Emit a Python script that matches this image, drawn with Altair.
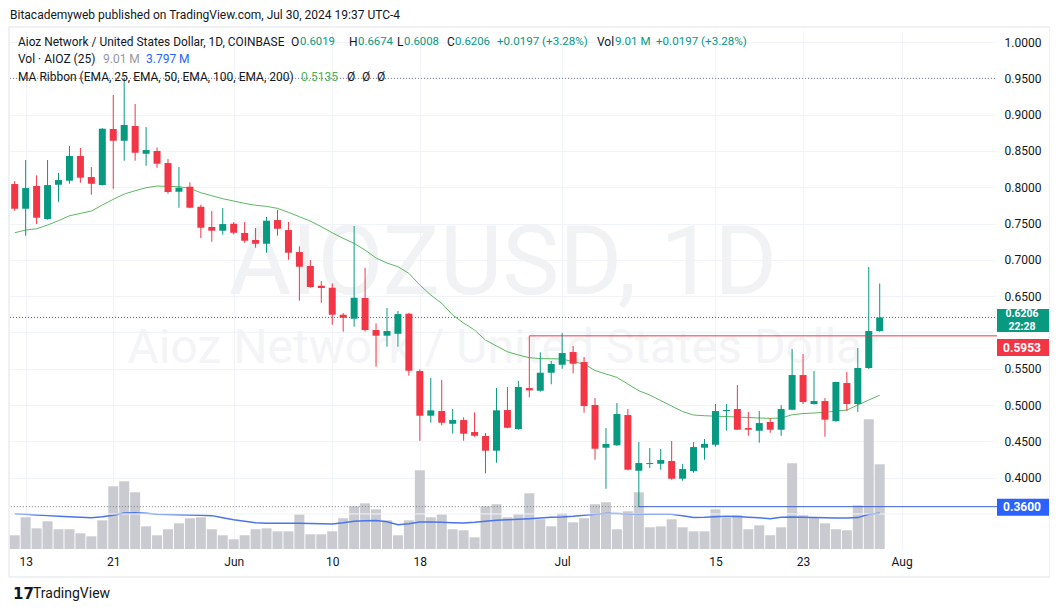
import altair as alt
import pandas as pd

# ---------------- data ----------------
dates = pd.date_range("2024-05-12", "2024-07-30", freq="D").strftime("%Y-%m-%dT00:00:00").tolist()

open_ = [0.8044, 0.7704, 0.8017, 0.7562, 0.8034, 0.8090, 0.8430, 0.8140, 0.8030, 0.8802,
         0.8640, 0.8843, 0.8461, 0.8499, 0.8333, 0.7938, 0.8007, 0.7731, 0.7452, 0.7401,
         0.7497, 0.7369, 0.7273, 0.7222, 0.7548, 0.7410, 0.7107, 0.6915, 0.6643, 0.6616,
         0.6244, 0.6189, 0.6474, 0.6033, 0.5955, 0.5982, 0.6258, 0.5468, 0.4853, 0.4917,
         0.4742, 0.4793, 0.4628, 0.4573, 0.4371, 0.4931, 0.4669, 0.5234, 0.5197, 0.5445,
         0.5555, 0.5730, 0.5592, 0.5000, 0.4412, 0.4445, 0.4862, 0.4095, 0.4187, 0.4191,
         0.4229, 0.3985, 0.4091, 0.4412, 0.4453, 0.4917, 0.4945, 0.4683, 0.4646, 0.4766,
         0.4660, 0.4935, 0.5413, 0.5014, 0.5055, 0.4780, 0.5303, 0.5014, 0.5510, 0.6019]

high = [0.8085, 0.8375, 0.8164, 0.8375, 0.8196, 0.8567, 0.8540, 0.8278, 0.8815, 0.9270,
        0.9500, 0.9146, 0.8829, 0.8550, 0.8388, 0.8278, 0.8067, 0.7759, 0.7672, 0.7713,
        0.7521, 0.7521, 0.7438, 0.7590, 0.7690, 0.7521, 0.7186, 0.6997, 0.6708, 0.6676,
        0.6267, 0.7466, 0.6887, 0.6125, 0.6336, 0.6295, 0.6271, 0.5492, 0.5372, 0.5344,
        0.4945, 0.4831, 0.4899, 0.4614, 0.5234, 0.5248, 0.5331, 0.5289, 0.5726, 0.5606,
        0.5992, 0.5813, 0.5661, 0.5096, 0.4683, 0.5028, 0.4945, 0.4490, 0.4408, 0.4394,
        0.4504, 0.4187, 0.4490, 0.4532, 0.5014, 0.5014, 0.5275, 0.4904, 0.4917, 0.4821,
        0.5000, 0.5771, 0.5702, 0.5468, 0.5096, 0.5320, 0.5455, 0.5785, 0.6901, 0.6674]

low = [0.7676, 0.7332, 0.7493, 0.7552, 0.7800, 0.8048, 0.8062, 0.7897, 0.8025, 0.7979,
       0.8365, 0.8365, 0.8296, 0.8269, 0.7910, 0.7718, 0.7710, 0.7300, 0.7249, 0.7346,
       0.7351, 0.7236, 0.7167, 0.7098, 0.7332, 0.7001, 0.6437, 0.6616, 0.6409, 0.6106,
       0.6010, 0.6079, 0.6010, 0.5528, 0.5803, 0.5803, 0.5404, 0.4508, 0.4756, 0.4720,
       0.4605, 0.4508, 0.4563, 0.4059, 0.4205, 0.4680, 0.4660, 0.5106, 0.5183, 0.5285,
       0.5500, 0.5437, 0.4894, 0.4247, 0.3847, 0.4439, 0.4100, 0.3600, 0.4132, 0.4109,
       0.3971, 0.3957, 0.4067, 0.4247, 0.4426, 0.4646, 0.4655, 0.4577, 0.4481, 0.4618,
       0.4577, 0.4930, 0.5014, 0.5005, 0.4563, 0.4766, 0.4917, 0.4904, 0.5496, 0.6008]

close = [0.7704, 0.7989, 0.7580, 0.8030, 0.8099, 0.8430, 0.8131, 0.8048, 0.8806, 0.8640,
         0.8857, 0.8475, 0.8512, 0.8324, 0.7934, 0.7993, 0.7718, 0.7442, 0.7401, 0.7493,
         0.7373, 0.7263, 0.7222, 0.7539, 0.7428, 0.7098, 0.6905, 0.6625, 0.6612, 0.6244,
         0.6202, 0.6478, 0.6033, 0.5955, 0.6019, 0.6253, 0.5472, 0.4853, 0.4927, 0.4756,
         0.4793, 0.4605, 0.4577, 0.4371, 0.4927, 0.4687, 0.5248, 0.5202, 0.5445, 0.5565,
         0.5716, 0.5569, 0.4986, 0.4398, 0.4463, 0.4876, 0.4109, 0.4201, 0.4201, 0.4242,
         0.3985, 0.4118, 0.4421, 0.4463, 0.4917, 0.4931, 0.4660, 0.4660, 0.4752, 0.4660,
         0.4945, 0.5413, 0.5041, 0.5055, 0.4798, 0.5317, 0.5014, 0.5510, 0.6019, 0.6206]

ema25 = [0.7373, 0.7410, 0.7428, 0.7479, 0.7539, 0.7607, 0.7640, 0.7672, 0.7755, 0.7833,
         0.7906, 0.7952, 0.7993, 0.8017, 0.8012, 0.8007, 0.7985, 0.7924, 0.7883, 0.7842,
         0.7810, 0.7778, 0.7751, 0.7737, 0.7709, 0.7654, 0.7594, 0.7534, 0.7456, 0.7373,
         0.7296, 0.7227, 0.7135, 0.7025, 0.6956, 0.6905, 0.6814, 0.6653, 0.6515, 0.6401,
         0.6240, 0.6129, 0.6033, 0.5895, 0.5813, 0.5734, 0.5689, 0.5652, 0.5640, 0.5638,
         0.5634, 0.5596, 0.5565, 0.5475, 0.5427, 0.5381, 0.5289, 0.5197, 0.5138, 0.5062,
         0.4986, 0.4910, 0.4862, 0.4853, 0.4846, 0.4841, 0.4835, 0.4828, 0.4821, 0.4817,
         0.4821, 0.4866, 0.4883, 0.4890, 0.4899, 0.4917, 0.4931, 0.5000, 0.5069, 0.5135]

volume_m = [1.46, 3.37, 2.20, 2.95, 2.10, 2.10, 1.67, 1.35, 3.05, 6.67,
            7.20, 6.03, 2.41, 1.46, 2.10, 2.73, 3.27, 3.37, 2.10, 1.46,
            1.03, 1.46, 2.10, 2.20, 1.88, 1.88, 3.69, 1.56, 1.56, 1.88,
            3.27, 4.54, 4.86, 4.22, 3.05, 1.46, 3.05, 8.37, 3.37, 3.69,
            2.10, 1.99, 1.24, 4.54, 4.76, 3.37, 3.69, 5.93, 3.16, 2.41,
            3.80, 2.84, 3.27, 4.76, 4.97, 2.10, 4.01, 6.03, 2.31, 2.41,
            3.16, 2.31, 1.88, 1.88, 4.22, 3.32, 3.59, 2.10, 2.52, 1.46,
            2.31, 9.12, 3.59, 3.32, 2.73, 2.10, 1.99, 4.65, 13.80, 9.01]

vol_ma_m = [3.74, 3.69, 3.62, 3.55, 3.48, 3.43, 3.37, 3.32, 3.43, 3.59,
            3.82, 3.85, 3.80, 3.69, 3.67, 3.65, 3.62, 3.60, 3.55, 3.32,
            3.11, 2.95, 2.79, 2.73, 2.73, 2.73, 2.73, 2.71, 2.69, 2.66,
            2.79, 2.95, 3.00, 3.02, 2.89, 2.57, 2.68, 2.86, 2.86, 2.84,
            2.79, 2.76, 2.84, 2.95, 3.05, 3.11, 3.16, 3.23, 3.30, 3.37,
            3.40, 3.48, 3.59, 3.69, 3.77, 3.77, 3.73, 3.69, 3.69, 3.69,
            3.69, 3.53, 3.34, 3.37, 3.43, 3.48, 3.45, 3.39, 3.32, 3.21,
            3.37, 3.40, 3.37, 3.35, 3.33, 3.31, 3.30, 3.34, 3.69, 3.797]

# labelled price ticks (0.6000 and 0.3500 sit hidden under the price boxes)
price_ticks = [0.40, 0.45, 0.50, 0.55, 0.65, 0.70, 0.75, 0.80, 0.85, 0.90, 0.95, 1.00]
hidden_grid = [0.35, 0.60]
time_ticks = [(5, 13), (5, 21), (6, 1), (6, 10), (6, 18), (7, 1), (7, 15), (7, 23), (8, 1)]

last_close = 0.6206
resist_level = 0.5953
resist_start = "2024-06-28T00:00:00"
resist_low = 0.5289
support_level = 0.3600
support_start = "2024-07-08T00:00:00"
high_mark = 0.9500

df = pd.DataFrame({"date": dates, "o": open_, "h": high, "l": low, "c": close,
                   "ema": ema25, "vol": volume_m, "volma": vol_ma_m})

# ---------------- styling ----------------
FONT = "Roboto"
G = "#089981"
R = "#f23645"
B = "#2962ff"
DARK = "#131722"
GRID = "#f0f3fa"
W, H = 985, 518

xscale = alt.Scale(domain=[alt.DateTime(year=2024, month=5, date=11, hours=13, minutes=41),
                           alt.DateTime(year=2024, month=8, date=9, hours=12, minutes=43)],
                   nice=False, padding=0)
xaxis = alt.Axis(values=[alt.DateTime(year=2024, month=m, date=d) for m, d in time_ticks],
                 labelExpr="date(datum.value) == 1 ? timeFormat(datum.value, '%b') : timeFormat(datum.value, '%-d')",
                 title=None, grid=True, gridColor=GRID, ticks=False, domain=False,
                 labelFontSize=12, labelColor=DARK, labelPadding=7, labelFont=FONT,
                 labelFlush=False, labelOverlap=False)
X = alt.X("date:T", scale=xscale, axis=xaxis)


def XD(field):
    return alt.X(field, scale=xscale, axis=xaxis)


pscale = alt.Scale(domain=[0.3017, 1.0152], nice=False, zero=False, padding=0)
vscale = alt.Scale(domain=[0, 55.1], nice=False, zero=True, padding=0)
yaxis = alt.Axis(orient="right", values=price_ticks, format=".4f", title=None, grid=True,
                 gridColor=GRID, ticks=False, domain=False, labelFontSize=12,
                 labelColor=DARK, labelPadding=9, labelFont=FONT, labelOverlap=False)


def PY(field):
    return alt.Y(field, scale=pscale, axis=yaxis)


def txt(s, x, y, color=DARK, size=12, weight="normal", align="left", font=FONT):
    return alt.Chart(pd.DataFrame({"t": [s]})).mark_text(
        align=align, baseline="middle", fontSize=size, fontWeight=weight, color=color, font=font
    ).encode(x=alt.value(x), y=alt.value(y), text="t:N")


updown = alt.when("datum.c >= datum.o").then(alt.value(G)).otherwise(alt.value(R))

# ---------------- volume pane ----------------
wm1 = txt("AIOZUSD, 1D", 493, 234, color="#f1f2f4", size=96, align="center")
wm2 = txt("Aioz Network / United States Dollar", 493, 318, color="#f3f4f6", size=48, align="center")

vol_bars = alt.Chart(df).mark_bar(size=10, color="#c9cbd0").encode(
    x=X, y=alt.Y("vol:Q", scale=vscale, axis=None))
vol_line = alt.Chart(df).mark_line(color="#4a74ea", strokeWidth=1.5).encode(
    x=X, y=alt.Y("volma:Q", scale=vscale, axis=None))

vol_group = alt.layer(wm1, wm2, vol_bars, vol_line)

# ---------------- price pane ----------------
extra_grid = alt.Chart(pd.DataFrame({"p": hidden_grid})).mark_rule(
    color=GRID, strokeWidth=1).encode(y=PY("p:Q"), x=alt.value(0), x2=alt.value(W))

full_dotted = alt.Chart(pd.DataFrame({"p": [high_mark]})).mark_rule(
    color="#787b86", strokeDash=[1, 2], strokeWidth=1).encode(
    y=PY("p:Q"), x=alt.value(0), x2=alt.value(W))

sup_dotted = alt.Chart(pd.DataFrame({"p": [support_level], "d": [support_start]})).mark_rule(
    color="#787b86", strokeDash=[1, 2], strokeWidth=1).encode(
    y=PY("p:Q"), x=XD("d:T"), x2=alt.value(0))

ema_line = alt.Chart(df).mark_line(color="#5cb860", strokeWidth=1).encode(x=X, y=PY("ema:Q"))

wicks = alt.Chart(df).mark_rule(strokeWidth=1).encode(x=X, y=PY("l:Q"), y2="h:Q", color=updown)
bodies = alt.Chart(df).mark_bar(size=7).encode(x=X, y=PY("o:Q"), y2="c:Q", color=updown)

last_line = alt.Chart(pd.DataFrame({"p": [last_close]})).mark_rule(
    color=G, strokeDash=[1, 2], strokeWidth=1).encode(
    y=PY("p:Q"), x=alt.value(0), x2=alt.value(987))

res_h = alt.Chart(pd.DataFrame({"p": [resist_level], "d": [resist_start]})).mark_rule(
    color=R, strokeWidth=1).encode(x=XD("d:T"), x2=alt.value(987), y=PY("p:Q"))
res_v = alt.Chart(pd.DataFrame({"p": [resist_level], "p2": [resist_low], "d": [resist_start]})).mark_rule(
    color=R, strokeWidth=1).encode(x=XD("d:T"), y=PY("p:Q"), y2="p2:Q")

sup_h = alt.Chart(pd.DataFrame({"p": [support_level], "d": [support_start]})).mark_rule(
    color="#3b5fd9", strokeWidth=1).encode(x=XD("d:T"), x2=alt.value(987), y=PY("p:Q"))


def price_box(p, color, top, bottom):
    return alt.Chart(pd.DataFrame({"p": [p]})).mark_rect(
        color=color, yOffset=top, y2Offset=bottom).encode(
        x=alt.value(987), x2=alt.value(1039), y=PY("p:Q"), y2="p:Q")


def box_text(p, s, dy, size=12):
    return alt.Chart(pd.DataFrame({"p": [p], "t": [s]})).mark_text(
        color="white", fontSize=size, fontWeight="bold", font=FONT, align="center",
        baseline="middle", dy=dy).encode(x=alt.value(1012), y=PY("p:Q"), text="t:N")


boxes = [
    price_box(last_close, G, -8.4, 14.6),
    box_text(last_close, f"{last_close:.4f}", -3.0, 10.5),
    box_text(last_close, "22:28", 9.6, 10.5),
    price_box(resist_level, R, 3.2, 20.2),
    box_text(resist_level, f"{resist_level:.4f}", 11.8),
    price_box(support_level, "#2962ff", -7.8, 9.2),
    box_text(support_level, f"{support_level:.4f}", 0.7),
]

headers = [
    txt("Bitacademyweb published on TradingView.com, Jul 30, 2024 19:37 UTC-4", 0, -16, size=12),
    txt("Aioz Network / United States Dollar, 1D, COINBASE", 8, 11, size=11.9),
    txt("O", 281, 11), txt("0.6019", 290, 11, G, size=11.4),
    txt("H", 339, 11), txt("0.6674", 348, 11, G, size=11.4),
    txt("L", 387, 11), txt("0.6008", 394, 11, G, size=11.4),
    txt("C", 437, 11), txt("0.6206", 445, 11, G, size=11.4),
    txt("+0.0197 (+3.28%)", 487, 11, G, size=11.6),
    txt("Vol", 587, 11), txt("9.01 M", 605, 11, G, size=11.6),
    txt("+0.0197 (+3.28%)", 646, 11, G, size=11.6),
    txt("Vol · AIOZ (25)", 8, 28), txt("9.01 M", 93, 28, "#9598a1"),
    txt("3.797 M", 136, 28, B),
    txt("MA Ribbon (EMA, 25, EMA, 50, EMA, 100, EMA, 200)", 8, 46),
    txt("0.5135", 291, 46, "#4caf50"),
    txt("Ø", 337, 46), txt("Ø", 352, 46), txt("Ø", 367, 46),
    txt("17", 3, 563, size=15, weight="bold", font="DejaVu Sans"),
    txt("TradingView", 23, 563, size=14),
]

frame = alt.Chart(pd.DataFrame({"t": [""]})).mark_rect(
    fill=None, stroke="#e0e3eb", strokeWidth=1).encode(
    x=alt.value(-1), x2=alt.value(1040), y=alt.value(-4), y2=alt.value(546))

price_group = alt.layer(extra_grid, full_dotted, sup_dotted, ema_line, wicks, bodies,
                        last_line, res_h, res_v, sup_h, *boxes, *headers, frame)

chart = alt.layer(vol_group, price_group).resolve_scale(y="independent").properties(
    width=W, height=H, autosize="none",
    padding={"left": 2, "top": 23, "right": 55, "bottom": 55},
    background="white",
).configure_view(stroke=None)

chart.save("out.html", embed_options={"renderer": "svg", "actions": False})
